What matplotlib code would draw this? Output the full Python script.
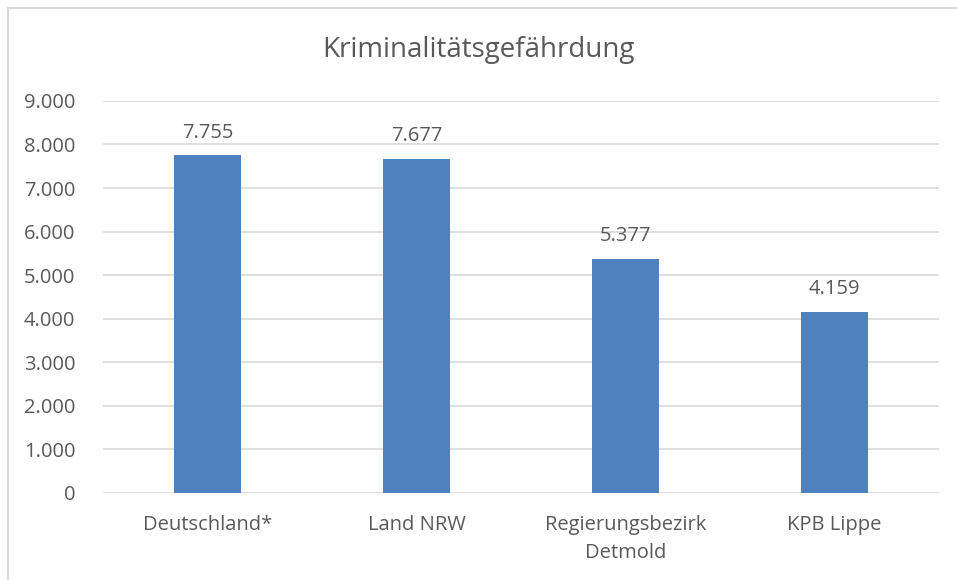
import matplotlib.pyplot as plt
from matplotlib.patches import Rectangle
from matplotlib.ticker import FuncFormatter

# Data
categories = ["Deutschland*", "Land NRW", "Regierungsbezirk\nDetmold", "KPB Lippe"]
values = [7755, 7677, 5377, 4159]
title = "Kriminalitätsgefährdung"

BAR_COLOR = "#4f81bd"
TEXT_COLOR = "#595959"
GRID_COLOR = "#d9d9d9"

plt.rcParams["font.family"] = ["Open Sans", "DejaVu Sans"]


def de_thousands(v, _pos=None):
    return f"{int(round(v)):,}".replace(",", ".")


fig = plt.figure(figsize=(9.57, 5.8), dpi=100)
ax = fig.add_axes([0.1076, 0.15, 0.8736, 0.676])

x = range(len(categories))
bars = ax.bar(x, values, width=0.316, color=BAR_COLOR, zorder=3)
for rect, v in zip(bars, values):
    ax.annotate(de_thousands(v), (rect.get_x() + rect.get_width() / 2, v),
                xytext=(0, 9), textcoords="offset points",
                ha="center", va="bottom", fontsize=14.5, color=TEXT_COLOR)

ax.set_xlim(-0.5, len(categories) - 0.5)
ax.set_ylim(0, 9000)
ax.set_yticks(range(0, 9001, 1000))
ax.yaxis.set_major_formatter(FuncFormatter(de_thousands))
ax.set_xticks(list(x))
ax.set_xticklabels(categories, linespacing=1.55)
ax.grid(axis="y", color=GRID_COLOR, linewidth=1.2, zorder=0)
for s in ax.spines.values():
    s.set_visible(False)
ax.tick_params(axis="both", length=0, labelsize=14.5, labelcolor=TEXT_COLOR)
ax.tick_params(axis="x", pad=16)
ax.tick_params(axis="y", pad=20)

fig.text(0.5, 0.913, title, ha="center", va="center", fontsize=20,
         color=TEXT_COLOR)

# chart frame (only top and left edges fall inside the image)
fig.patches.append(Rectangle((8 / 957, -0.1), 1.2, 1 - 8 / 580 + 0.1,
                             transform=fig.transFigure, fill=False,
                             edgecolor=GRID_COLOR, linewidth=1.5))

fig.savefig("out.png", dpi=100)
